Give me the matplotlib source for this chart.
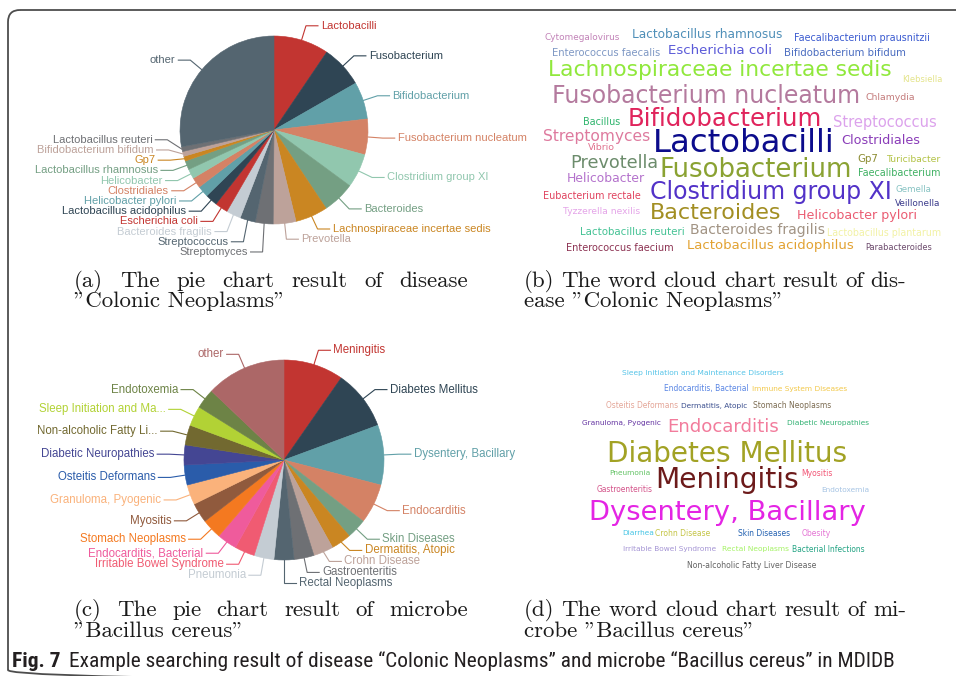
import numpy as np
import matplotlib
matplotlib.use("Agg")
import matplotlib.pyplot as plt
from matplotlib import font_manager
from matplotlib.patches import FancyBboxPatch

# (a) pie chart, disease "Colonic Neoplasms" (clockwise from 12 o'clock)
pie_a_labels = ["Lactobacilli", "Fusobacterium", "Bifidobacterium", "Fusobacterium nucleatum",
                "Clostridium group XI", "Bacteroides", "Lachnospiraceae incertae sedis", "Prevotella",
                "Streptomyces", "Streptococcus", "Bacteroides fragilis", "Escherichia coli",
                "Lactobacillus acidophilus", "Helicobacter pylori", "Clostridiales", "Helicobacter",
                "Lactobacillus rhamnosus", "Gp7", "Bifidobacterium bifidum", "Lactobacillus reuteri",
                "other"]
pie_a_values = [34, 26, 23, 22, 21, 20, 20, 14, 11, 9.5, 9, 8, 7.5, 7, 6.5, 6, 5.5, 3, 3, 3, 100]

# (c) pie chart, microbe "Bacillus cereus"
pie_c_labels = ["Meningitis", "Diabetes Mellitus", "Dysentery, Bacillary", "Endocarditis",
                "Skin Diseases", "Dermatitis, Atopic", "Crohn Disease", "Gastroenteritis",
                "Rectal Neoplasms", "Pneumonia", "Irritable Bowel Syndrome", "Endocarditis, Bacterial",
                "Stomach Neoplasms", "Myositis", "Granuloma, Pyogenic", "Osteitis Deformans",
                "Diabetic Neuropathies", "Non-alcoholic Fatty Li...", "Sleep Initiation and Ma...",
                "Endotoxemia", "other"]
pie_c_values = [3, 3, 3, 2, 1, 1, 1, 1, 1, 1, 1, 1, 1, 1, 1, 1, 1, 1, 1, 1, 4]

# (b) word cloud, disease "Colonic Neoplasms"
cloud_b_words = ["Cytomegalovirus", "Lactobacillus rhamnosus", "Faecalibacterium prausnitzii",
                 "Enterococcus faecalis", "Escherichia coli", "Bifidobacterium bifidum",
                 "Lachnospiraceae incertae sedis", "Klebsiella", "Fusobacterium nucleatum", "Chlamydia",
                 "Bacillus", "Bifidobacterium", "Streptococcus", "Streptomyces", "Vibrio", "Lactobacilli",
                 "Clostridiales", "Prevotella", "Fusobacterium", "Gp7", "Turicibacter", "Faecalibacterium",
                 "Helicobacter", "Eubacterium rectale", "Clostridium group XI", "Gemella", "Veillonella",
                 "Tyzzerella nexilis", "Bacteroides", "Helicobacter pylori", "Lactobacillus reuteri",
                 "Bacteroides fragilis", "Lactobacillus plantarum", "Enterococcus faecium",
                 "Lactobacillus acidophilus", "Parabacteroides"]

# (d) word cloud, microbe "Bacillus cereus"
cloud_d_words = ["Sleep Initiation and Maintenance Disorders", "Endocarditis, Bacterial",
                 "Immune System Diseases", "Osteitis Deformans", "Dermatitis, Atopic", "Stomach Neoplasms",
                 "Granuloma, Pyogenic", "Endocarditis", "Diabetic Neuropathies", "Diabetes Mellitus",
                 "Pneumonia", "Meningitis", "Myositis", "Gastroenteritis", "Endotoxemia",
                 "Dysentery, Bacillary", "Diarrhea", "Crohn Disease", "Skin Diseases", "Obesity",
                 "Irritable Bowel Syndrome", "Rectal Neoplasms", "Bacterial Infections",
                 "Non-alcoholic Fatty Liver Disease"]

# ---- styles / layout ----
echarts4 = ['#c23531', '#2f4554', '#61a0a8', '#d48265', '#91c7ae', '#749f83',
            '#ca8622', '#bda29a', '#6e7074', '#546570', '#c4ccd3']
pie_c_colors = ['#c23531', '#2f4554', '#61a0a8', '#d48265', '#749f83', '#ca8622', '#bda29a',
                '#6e7074', '#546570', '#c4ccd3', '#f05b72', '#ef5b9c', '#f47920', '#905a3d',
                '#fab27b', '#2a5caa', '#444693', '#726930', '#b2d235', '#6d8346', '#ac6767']

cloud_b_colors = ['#c283b8', '#4f8fb8', '#3a5ad0', '#7f98c4', '#5a5ad8', '#4a6cc0', '#90e83c',
                  '#e4e48a', '#b47a9e', '#c47c7c', '#2eb46c', '#e0245c', '#dca2ec', '#de7a9e',
                  '#e0728e', '#0c0c8c', '#8a3cb8', '#6c8c6c', '#8aa232', '#8c8c32', '#b2c244',
                  '#3eb062', '#b472cc', '#e0425e', '#5232c8', '#86c2c2', '#3c3c8c', '#e4a4e8',
                  '#a28e22', '#ea5c72', '#44c294', '#a29484', '#f2f2a6', '#8c3252', '#e2a232',
                  '#6c4a6c']
# word boxes in pixels: left, right, centre y
cloud_b_boxes = [(545, 620, 38), (632, 782, 34), (794, 930, 38), (552, 660, 53), (668, 772, 51),
                 (783, 906, 53), (548, 892, 70), (902, 942, 79), (552, 860, 96), (865, 915, 98),
                 (583, 620, 122), (627, 822, 119), (833, 937, 122), (543, 650, 136), (588, 615, 148),
                 (652, 835, 144), (842, 920, 140), (570, 658, 163), (660, 852, 170), (857, 878, 159),
                 (886, 940, 159), (858, 940, 173), (567, 645, 178), (543, 641, 196), (650, 892, 192),
                 (895, 931, 189), (895, 940, 203), (563, 640, 212), (650, 782, 213), (798, 917, 216),
                 (580, 685, 232), (690, 825, 230), (827, 942, 233), (566, 674, 248), (687, 853, 246),
                 (865, 932, 248)]

cloud_d_colors = ['#56c4e8', '#5a86e4', '#f2c84a', '#e4a698', '#3a4e8e', '#7c6c52', '#6434a2',
                  '#f27c9c', '#34b274', '#a2a224', '#62c264', '#6c1a1a', '#f25474', '#d4548a',
                  '#a6c4e4', '#e424e4', '#44c4e4', '#c4c444', '#2462b2', '#e474d4', '#a494d4',
                  '#a4f264', '#24a484', '#646464']
cloud_d_boxes = [(622, 783, 373), (664, 749, 389), (752, 847, 389), (606, 678, 406), (681, 748, 406),
                 (753, 831, 406), (582, 661, 423), (667, 779, 427), (787, 870, 423), (607, 847, 454),
                 (609, 650, 473), (655, 799, 480), (801, 832, 473), (597, 653, 490), (821, 869, 490),
                 (589, 865, 513), (622, 654, 533), (655, 710, 533), (738, 790, 533), (802, 831, 533),
                 (623, 717, 549), (722, 789, 549), (792, 865, 549), (687, 816, 566)]

W, H = 956, 676
installed = {f.name for f in font_manager.fontManager.ttflist}
sans = 'Liberation Sans'
cloud_font = 'DejaVu Sans'
narrow = next((f for f in ('Liberation Sans Narrow', 'Roboto Condensed', 'Roboto')
               if f in installed), sans)
serif = 'cmr10' if 'cmr10' in installed else 'DejaVu Serif'

fig = plt.figure(figsize=(W / 100, H / 100), dpi=100)
bg = fig.add_axes([0, 0, 1, 1])
bg.set_xlim(0, W)
bg.set_ylim(H, 0)
bg.axis('off')
rend = fig.canvas.get_renderer()

bg.add_patch(FancyBboxPatch((8, 10), 990, 672, boxstyle="round,pad=0,rounding_size=12",
                            fc='none', ec='#4d4d4d', lw=1.3))


def draw_pie(cx, cy, r, values, labels, colors, fs, spacing, len1=15, len2=12, gap=3):
    s = 2.5 * r
    ax = fig.add_axes([(cx - s / 2) / W, 1 - (cy + s / 2) / H, s / W, s / H])
    wedges, _ = ax.pie(values, colors=colors, startangle=90, counterclock=False,
                       wedgeprops=dict(linewidth=0.4))
    for w in wedges:
        w.set_edgecolor(w.get_facecolor())
    ax.set_xlim(-1.25, 1.25)
    ax.set_ylim(-1.25, 1.25)

    vals = np.asarray(values, float)
    frac = vals / vals.sum() * 360
    mid = np.radians(np.cumsum(frac) - frac / 2)
    R2 = r + len1
    sx, sy = cx + r * np.sin(mid), cy - r * np.cos(mid)
    ex, ey = cx + R2 * np.sin(mid), cy - R2 * np.cos(mid)
    right = np.sin(mid) >= -1e-9

    # spread overlapping labels on each side
    ey_adj = ey.copy()
    for side in (right, ~right):
        idx = np.where(side)[0]
        order = idx[np.argsort(ey[idx])]
        ys = ey[order].copy()
        for _ in range(300):
            for k in range(len(ys) - 1):
                d = ys[k + 1] - ys[k]
                if d < spacing:
                    push = (spacing - d) / 2
                    ys[k] -= push
                    ys[k + 1] += push
        ey_adj[order] = ys

    for i, lab in enumerate(labels):
        col = wedges[i].get_facecolor()
        d = 1 if right[i] else -1
        hx = ex[i] + d * len2
        bg.plot([sx[i], ex[i], hx], [sy[i], ey_adj[i], ey_adj[i]], color=col, lw=0.8,
                solid_joinstyle='miter')
        bg.text(hx + d * gap, ey_adj[i], lab, color=col, fontsize=fs, family=sans,
                ha='left' if right[i] else 'right', va='center')


def draw_cloud(words, colors, boxes):
    for w, c, (x0, x1, yc) in zip(words, colors, boxes):
        t = bg.text((x0 + x1) / 2, yc, w, color=c, fontsize=10, family=cloud_font,
                    ha='center', va='center')
        wd = t.get_window_extent(renderer=rend).width
        t.set_fontsize(10 * (x1 - x0) / wd)


def justified(line, x0, x1, y, **kw):
    ts = [bg.text(x0, y, w, va='baseline', ha='left', **kw) for w in line.split()]
    widths = [t.get_window_extent(renderer=rend).width for t in ts]
    g = (x1 - x0 - sum(widths)) / (len(ts) - 1)
    x = x0
    for t, w in zip(ts, widths):
        t.set_x(x)
        x += w + g


draw_pie(274, 130, 94, pie_a_values, pie_a_labels, echarts4, 8, 10.2)
draw_pie(284, 460, 100, pie_c_values, pie_c_labels, pie_c_colors, 8.3, 11)
draw_cloud(cloud_b_words, cloud_b_colors, cloud_b_boxes)
draw_cloud(cloud_d_words, cloud_d_colors, cloud_d_boxes)

cap = dict(family=serif, fontsize=16.5, color='#1a1a1a')
justified("(a) The pie chart result of disease", 74, 468, 287, **cap)
bg.text(74, 307, '"Colonic Neoplasms"', va='baseline', **cap)
justified("(b) The word cloud chart result of dis-", 524, 906, 287, **cap)
bg.text(524, 307, 'ease "Colonic Neoplasms"', va='baseline', **cap)
justified("(c) The pie chart result of microbe", 74, 468, 616, **cap)
bg.text(74, 637, '"Bacillus cereus"', va='baseline', **cap)
justified("(d) The word cloud chart result of mi-", 524, 906, 616, **cap)
bg.text(524, 637, 'crobe "Bacillus cereus"', va='baseline', **cap)

# figure caption, fitted to the printed width
t1 = bg.text(12, 667, "Fig. 7", family=narrow, fontweight='bold', fontsize=15,
             color='#231f20', va='baseline')
w1 = t1.get_window_extent(renderer=rend).width
t2 = bg.text(12 + w1 + 8, 667,
             "Example searching result of disease \u201cColonic Neoplasms\u201d and microbe "
             "\u201cBacillus cereus\u201d in MDIDB",
             family=narrow, fontsize=15, color='#231f20', va='baseline')
w2 = t2.get_window_extent(renderer=rend).width
sc = (897 - 12 - 8) / (w1 + w2)
t1.set_fontsize(15 * sc)
t2.set_fontsize(15 * sc)
t2.set_x(12 + w1 * sc + 8)

fig.savefig("out.png", dpi=100, facecolor='white')
